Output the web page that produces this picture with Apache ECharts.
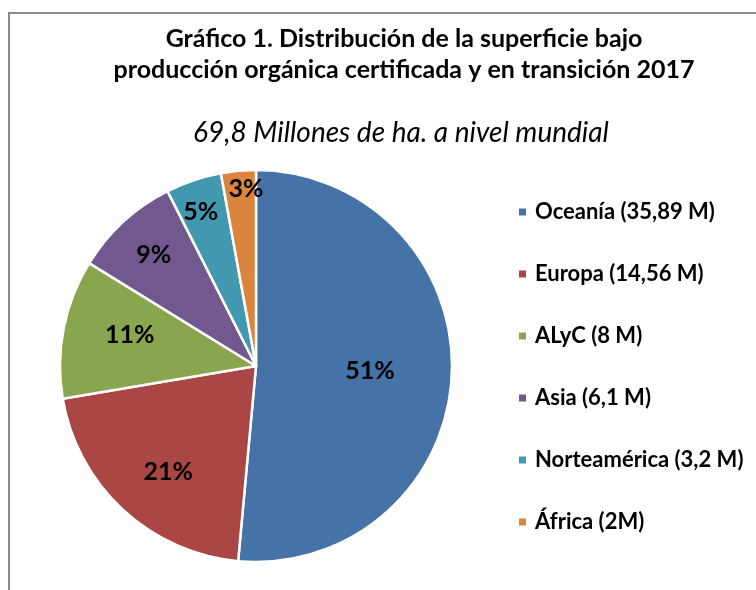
<!DOCTYPE html>
<html><head><meta charset="utf-8">
<script src="https://cdn.jsdelivr.net/npm/echarts@6/dist/echarts.min.js"></script>
<style>html,body{margin:0;padding:0;background:#fff}#c{width:756px;height:590px}</style>
</head><body><div id="c"></div>
<script>
const categories = ['Oceanía', 'Europa', 'ALyC', 'Asia', 'Norteamérica', 'África'];
const values = [35.89, 14.56, 8, 6.1, 3.2, 2];
const legendLabels = ['Oceanía (35,89 M)', 'Europa (14,56 M)', 'ALyC (8 M)', 'Asia (6,1 M)', 'Norteamérica (3,2 M)', 'África (2M)'];
const colors = ['#4572A7', '#AA4643', '#89A54E', '#71588F', '#4198AF', '#DB843D'];
const labelOffsets = [[13, 0], [-19, 32], [-27, -12], [-34, -37], [-23, -58], [-1, -76]];

const FONT = "Lato, 'Noto Sans', sans-serif";
const chart = echarts.init(document.getElementById('c'), null, {renderer: 'canvas'});
const legendMap = {};
categories.forEach((c, i) => legendMap[c] = legendLabels[i]);

chart.setOption({
  animation: false,
  color: colors,
  graphic: [{
    type: 'rect', shape: {x: 9, y: 13, width: 800, height: 700},
    style: {fill: 'none', stroke: '#8a8a8a', lineWidth: 2}, silent: true
  }],
  title: [{
    text: 'Gráfico 1. Distribución de la superficie bajo\nproducción orgánica certificada y en transición 2017',
    left: 399, top: 18, textAlign: 'center',
    textStyle: {fontFamily: FONT, fontWeight: 'bold', fontSize: 25, lineHeight: 31, color: '#000'}
  }, {
    text: '69,8 Millones de ha. a nivel mundial',
    left: 396, top: 113, textAlign: 'center',
    textStyle: {fontFamily: FONT, fontStyle: 'italic', fontWeight: 'normal', fontSize: 28, lineHeight: 30, color: '#000'}
  }],
  legend: {
    orient: 'vertical', left: 512, top: 195,
    itemWidth: 9, itemHeight: 9, itemGap: 38, icon: 'rect',
    data: categories,
    formatter: n => legendMap[n],
    textStyle: {fontFamily: FONT, fontWeight: 'bold', fontSize: 22, lineHeight: 24, color: '#000', padding: [0, 0, 0, 3]}
  },
  series: [{
    type: 'pie', center: [256, 366], radius: 196, startAngle: 90, clockwise: true,
    avoidLabelOverlap: false,
    itemStyle: {borderColor: '#fff', borderWidth: 2.5},
    label: {
      position: 'inside', fontFamily: FONT, fontWeight: 'bold', fontSize: 25, color: '#000',
      formatter: p => Math.round(p.percent) + '%'
    },
    labelLine: {show: false},
    emphasis: {disabled: true},
    data: categories.map((c, i) => ({name: c, value: values[i], label: {offset: labelOffsets[i]}}))
  }]
});
</script></body></html>
